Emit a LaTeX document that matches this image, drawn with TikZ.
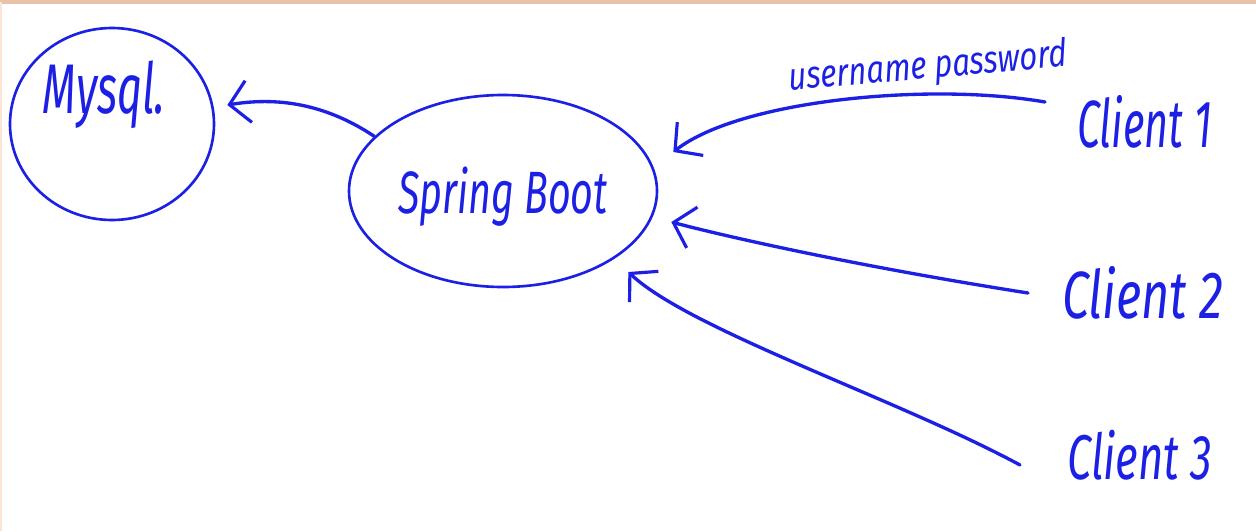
\documentclass[tikz,border=0pt]{standalone}
\usepackage{fontspec}
\setmainfont{Fira Sans}
\usetikzlibrary{shapes.geometric,arrows.meta}
\definecolor{ink}{RGB}{28,32,228}
\definecolor{edgeorange}{RGB}{232,194,168}
\definecolor{edgelight}{RGB}{250,228,214}
\begin{document}
\begin{tikzpicture}[x=0.02cm,y=-0.02cm,
  blob/.style={draw=ink,line width=1.5pt,ellipse,inner sep=0pt},
  hand/.style={text=ink,inner sep=0pt,font=\fontsize{#1}{#1}\selectfont\itshape},
  hand/.default=36pt,
  arr/.style={draw=ink,line width=1.9pt,line cap=round,line join=round,
    -{Straight Barb[length=11pt,width=24pt,line width=1.8pt]}}]
\useasboundingbox (0,0) rectangle (1256,531);
\fill[white] (0,0) rectangle (1256,531);
\draw[edgeorange,line width=2.2pt] (0,2) -- (1256,2);
\draw[edgelight,line width=1.5pt] (0.8,2) -- (0.8,531);
% ellipses
\node[blob,minimum width=204*0.02cm,minimum height=192*0.02cm] (mysql) at (112,124) {};
\node[blob,minimum width=308*0.02cm,minimum height=192*0.02cm] (sb) at (503,191) {};
% texts
\node[hand=40pt,xscale=0.62,transform shape] (mysqlt) at (104,95) {Mysql.};
\node[hand=34pt,xscale=0.66,transform shape] (sbt) at (503,197) {Spring Boot};
\node[hand=38pt,xscale=0.62,transform shape,anchor=west] (c1) at (1077,122) {Client 1};
\node[hand=38pt,xscale=0.73,transform shape,anchor=west] (c2) at (1062,293) {Client 2};
\node[hand=36pt,xscale=0.69,transform shape,anchor=west] (c3) at (1067,455) {Client 3};
\node[hand=22pt,xscale=0.8,transform shape,rotate=4] (lbl) at (928,68) {username password};
% connectors
\draw[arr] (sb.157) .. controls (320,100) and (270,98) .. ([shift={(12,-19)}]mysql.east);
\draw[arr] ([shift={(-32,-20)}]c1.west) .. controls (930,82) and (740,100) .. ([shift={(15,-39)}]sb.east);
\draw[arr] ([shift={(-34,0)}]c2.west) .. controls (850,265) and (720,235) .. ([shift={(13,31)}]sb.east);
\draw[arr] ([shift={(-47,10)}]c3.west) .. controls (900,400) and (690,330) .. ([shift={(-30,81)}]sb.east);
\end{tikzpicture}
\end{document}
